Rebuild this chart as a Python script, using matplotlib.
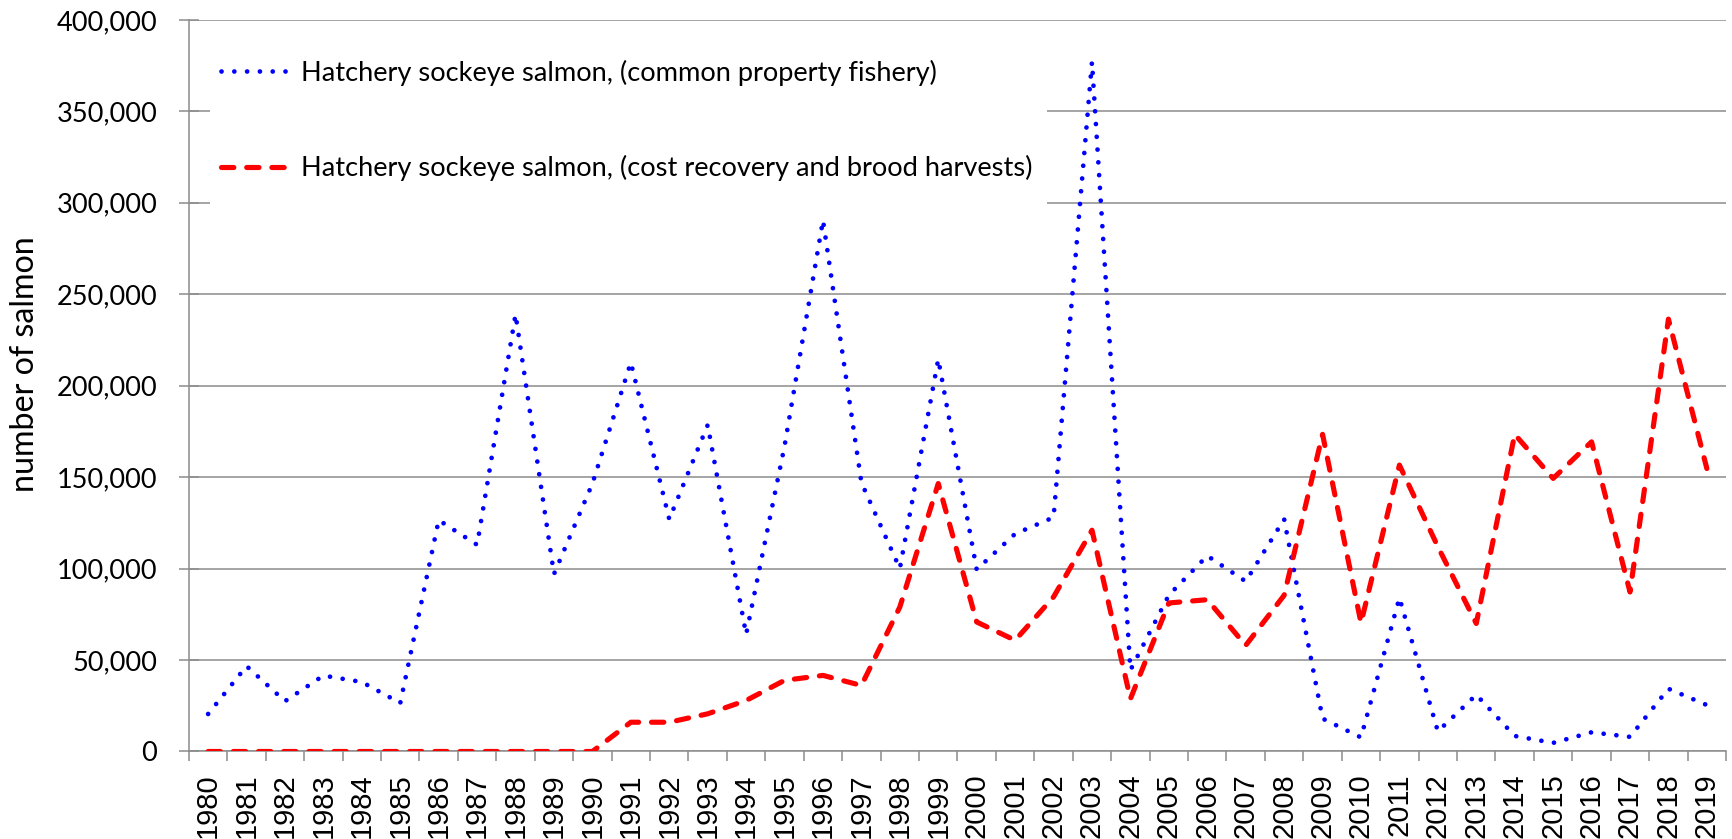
import matplotlib

matplotlib.use("Agg")
import matplotlib.pyplot as plt
from matplotlib.patches import Rectangle
from matplotlib.ticker import FuncFormatter, MultipleLocator

years = [str(y) for y in range(1980, 2020)]

# common property fishery (blue, dotted)
common_property = [
    20500, 46700, 27500, 41500, 38000, 26500, 126500, 113000, 239000, 97000,
    146500, 212700, 127000, 178500, 64000, 167000, 290500, 147000, 100000, 214500,
    99500, 119000, 128000, 377000, 44500, 85500, 107000, 93000, 127000, 18000,
    7700, 84000, 11000, 31000, 8500, 4700, 10500, 8000, 34300, 25400,
]

# cost recovery and brood harvests (red, dashed)
cost_recovery = [
    0, 0, 0, 0, 0, 0, 0, 0, 0, 0,
    0, 16000, 16000, 20600, 27900, 38900, 41600, 36100, 79000, 146500,
    70800, 60800, 84500, 121000, 28800, 81200, 83000, 58000, 85400, 173400,
    70300, 156600, 112000, 70000, 173400, 149300, 169300, 87200, 236400, 154700,
]

labels = [
    "Hatchery sockeye salmon, (common property fishery)",
    "Hatchery sockeye salmon, (cost recovery and brood harvests)",
]

GRID = "#8c8c8c"
TEXT_FONT = ["Lato", "DejaVu Sans"]

fig = plt.figure(figsize=(17.33, 8.39), dpi=100)
ax = fig.add_axes([0.109, 0.1043, 0.887, 0.872])

x = range(len(years))
ax.plot(x, common_property, color="#0000ff", linewidth=3.4,
        linestyle=(0, (0.01, 2.7)), dash_capstyle="round",
        label=labels[0], zorder=3)
ax.plot(x, cost_recovery, color="#ff0000", linewidth=3.7,
        linestyle=(0, (2.4, 2.5)), dash_capstyle="round",
        label=labels[1], zorder=3)

ax.set_xlim(-0.5, len(years) - 0.5)
ax.set_ylim(0, 400000)

ax.yaxis.set_major_locator(MultipleLocator(50000))
ax.yaxis.set_major_formatter(FuncFormatter(lambda v, _: f"{int(v):,}"))
ax.grid(axis="y", color=GRID, linewidth=1.1, zorder=0)
ax.set_axisbelow(True)

# labels at the category centres, tick marks on the boundaries
ax.set_xticks(list(x))
ax.set_xticklabels(years, rotation=90, fontsize=21, family="Liberation Sans")
ax.set_xticks([i - 0.5 for i in range(len(years) + 1)], minor=True)
ax.tick_params(axis="x", which="major", length=0, pad=16)
ax.tick_params(axis="x", which="minor", length=7.2, width=1.1,
               color=GRID, direction="out")
ax.tick_params(axis="y", length=14.4, width=1.1, color=GRID,
               direction="inout", pad=15.5)
for lab in ax.get_yticklabels():
    lab.set_family(TEXT_FONT)
    lab.set_fontsize(19.5)

for side in ("top", "right"):
    ax.spines[side].set_visible(False)
for side in ("left", "bottom"):
    ax.spines[side].set_color(GRID)
    ax.spines[side].set_linewidth(1.1)

ax.set_ylabel("number of salmon", fontsize=23.2, family=TEXT_FONT, labelpad=12)
ax.yaxis.label.set_y(0.53)

# the legend sits on a white block that hides the gridlines behind it
ax.add_patch(Rectangle((0.014, 0.715), 0.544, 0.27, transform=ax.transAxes,
                       facecolor="white", edgecolor="none", zorder=1))
ax.legend(loc="upper left", bbox_to_anchor=(0.007, 0.9754),
          borderaxespad=0, frameon=False,
          borderpad=0.8, labelspacing=2.55, handlelength=2.5,
          handletextpad=0.43, prop={"family": TEXT_FONT, "size": 19.6})

fig.savefig("out.png", dpi=100)
